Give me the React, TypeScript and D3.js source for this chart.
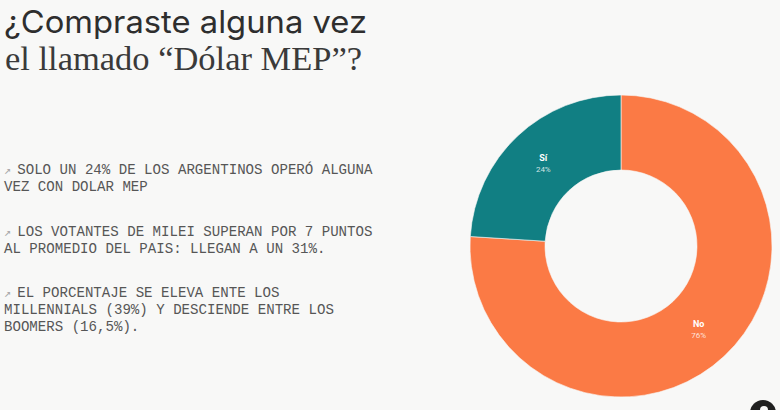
import { useRef, useEffect } from 'react'
import * as d3 from 'd3'

const answers = ['No', 'Sí']
const shares = [76, 24]
const colors = ['#fb7a45', '#117f83']

const titleSans = '¿Compraste alguna vez'
const titleSerif = 'el llamado “Dólar MEP”?'

const bullets = [
  ['SOLO UN 24% DE LOS ARGENTINOS OPERÓ ALGUNA', 'VEZ CON DOLAR MEP'],
  ['LOS VOTANTES DE MILEI SUPERAN POR 7 PUNTOS', 'AL PROMEDIO DEL PAIS: LLEGAN A UN 31%.'],
  ['EL PORCENTAJE SE ELEVA ENTE LOS', 'MILLENNIALS (39%) Y DESCIENDE ENTRE LOS', 'BOOMERS (16,5%).'],
]
const bulletTops = [174, 236, 297]

const width = 780
const height = 410

const App = () => {
  const elRef = useRef<SVGSVGElement>(null)

  useEffect(() => {
    const svg = d3.select(elRef.current as SVGSVGElement)
    svg.selectAll('*').remove()

    svg.append('rect').attr('width', width).attr('height', height).attr('fill', '#f8f8f7')

    // title, two typefaces
    svg.append('text')
      .attr('x', 4)
      .attr('y', 33)
      .attr('font-family', 'Inter, "Liberation Sans", sans-serif')
      .attr('font-size', 31)
      .attr('fill', '#2e2e2e')
      .attr('textLength', 363)
      .attr('lengthAdjust', 'spacingAndGlyphs')
      .text(titleSans)
    svg.append('text')
      .attr('x', 5)
      .attr('y', 70)
      .attr('font-family', '"Liberation Serif", "DejaVu Serif", serif')
      .attr('font-size', 33)
      .attr('fill', '#3a3a3a')
      .attr('textLength', 357)
      .attr('lengthAdjust', 'spacingAndGlyphs')
      .text(titleSerif)

    // bullet notes
    const notes = svg.append('g')
      .attr('font-family', '"Liberation Mono", "DejaVu Sans Mono", monospace')
      .attr('font-size', 14.1)
      .attr('fill', '#565656')
    bullets.forEach((lines, i) => {
      lines.forEach((line, j) => {
        const t = notes.append('text')
          .attr('x', 4)
          .attr('y', bulletTops[i] + j * 16.8)
        if (j === 0) {
          t.append('tspan').attr('fill', '#a8a8a8').attr('font-size', 12).text('↗')
          t.append('tspan').attr('dx', 6).text(line)
        } else {
          t.append('tspan').text(line)
        }
      })
    })

    // donut
    const cx = 621
    const cy = 246
    const outer = 151
    const inner = 76

    const pie = d3.pie<number>().sort(null).value((d) => d)
    const arc = d3.arc<d3.PieArcDatum<number>>().innerRadius(inner).outerRadius(outer)
    const arcs = pie(shares)

    const g = svg.append('g').attr('transform', `translate(${cx},${cy})`)
    g.selectAll('path')
      .data(arcs)
      .enter()
      .append('path')
      .attr('d', arc)
      .attr('fill', (_, i) => colors[i])
      .attr('stroke', '#f8f8f7')
      .attr('stroke-width', 0.6)

    const labels = g.selectAll('g.label')
      .data(arcs)
      .enter()
      .append('g')
      .attr('class', 'label')
      .attr('transform', (d) => `translate(${arc.centroid(d)})`)
      .attr('font-family', 'Roboto, "Liberation Sans", sans-serif')
      .attr('text-anchor', 'middle')
      .attr('fill', '#ffffff')
    labels.append('text')
      .attr('y', -2)
      .attr('font-size', 9)
      .attr('font-weight', 'bold')
      .text((_, i) => answers[i])
    labels.append('text')
      .attr('y', 9)
      .attr('font-size', 8)
      .attr('fill-opacity', 0.8)
      .text((d) => `${d.data}%`)

    // logo mark in the corner
    svg.append('circle').attr('cx', 763).attr('cy', 413).attr('r', 13).attr('fill', '#1f1f1f')
    svg.append('circle').attr('cx', 764).attr('cy', 410).attr('r', 4).attr('fill', '#f8f8f7')
  }, [])

  return (
    <svg
      ref={elRef}
      width={width}
      height={height}
      style={{ position: 'absolute', left: 0, top: 0 }}
    />
  )
}

export default App
